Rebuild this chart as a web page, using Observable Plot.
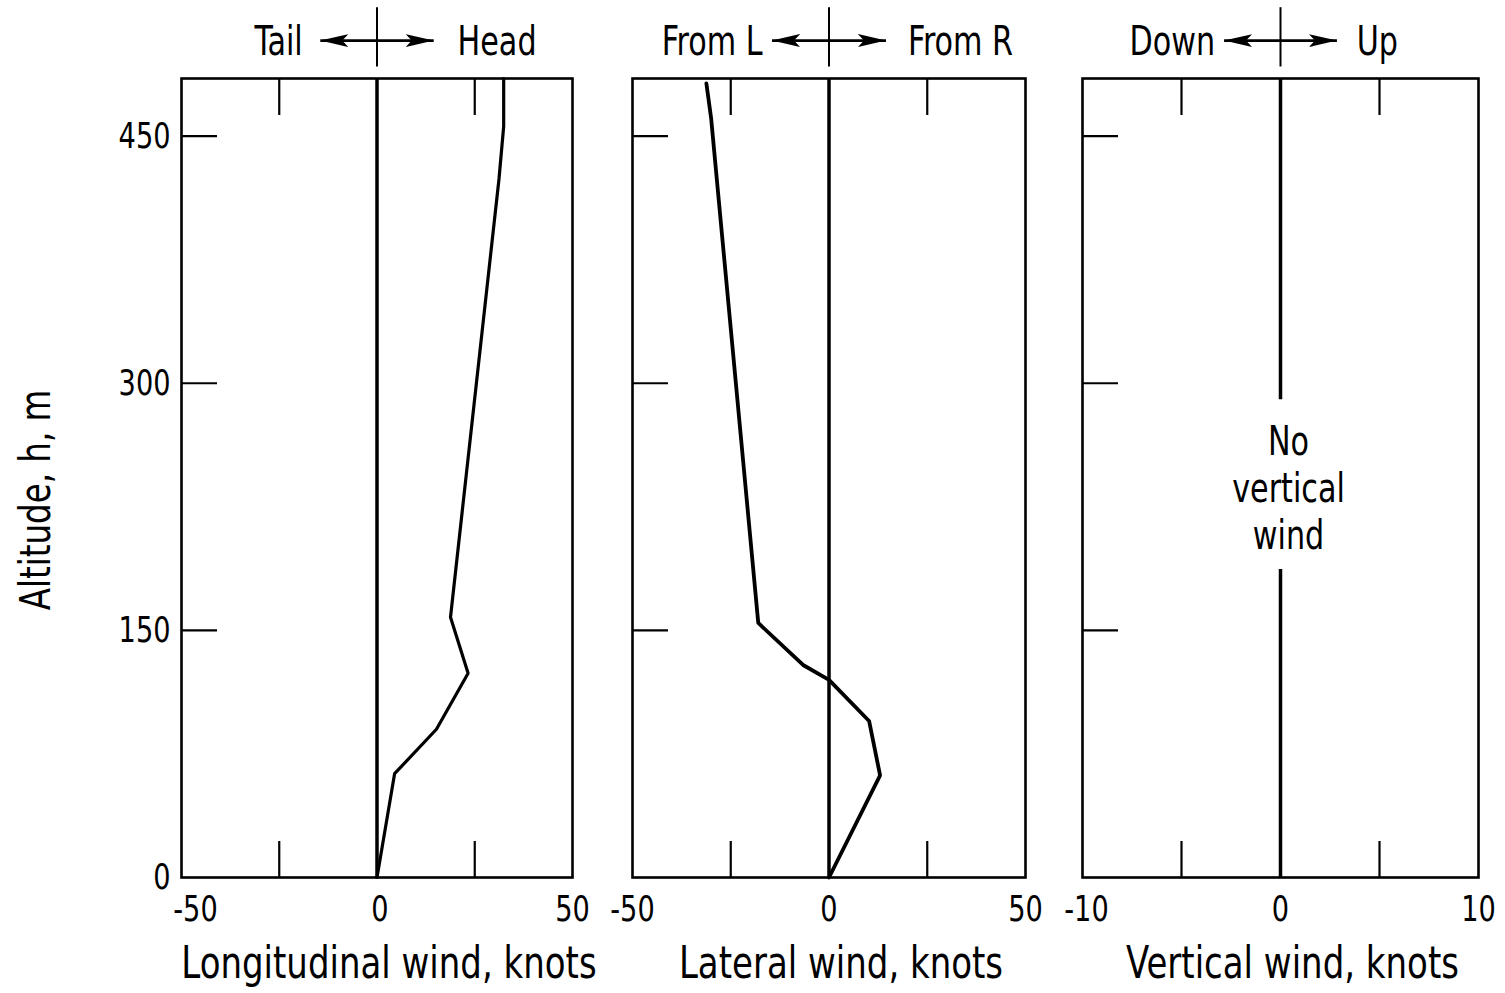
<!DOCTYPE html>
<html><head><meta charset="utf-8">
<script src="https://cdn.jsdelivr.net/npm/d3@7"></script>
<script src="https://cdn.jsdelivr.net/npm/@observablehq/plot@0.6"></script>
<style>
body{margin:0;background:#fff;}
#chart{position:relative;width:1505px;height:993px;background:#fff;}
.panel{position:absolute;top:0;}
</style></head><body><div id="chart"></div>
<script>
// ---- shared altitude axis ----
const altitudeDomain = [0, 485];
const altitudeTickLabels = [0, 150, 300, 450];
const altitudeInnerTicks = [150, 300, 450];
const altitudeTitle = "Altitude, h, m";

// ---- longitudinal wind profile (knots, + = head wind) ----
const longAltitude = [0, 63, 90, 124, 158, 424, 456, 485];
const longWind     = [0, 4.5, 15.2, 23.3, 18.8, 31.2, 32.4, 32.4];

// ---- lateral wind profile (knots, + = from right) ----
const latAltitude = [0, 62, 95, 120, 129, 154.5, 461, 482];
const latWind     = [0, 13, 10.2, 0, -6.6, -18, -30, -31.2];

// ---- vertical wind: none; the zero line is broken around the note ----
const vertZeroFrom = [0, 290];
const vertZeroTo   = [187, 485];
const vertNote = "No\nvertical\nwind";
const vertNoteAltitude = 237;

// ---- axes per panel ----
const xDomains    = [[-50, 50], [-50, 50], [-10, 10]];
const xTickLabels = [[-50, 0, 50], [-50, 0, 50], [-10, 0, 10]];
const xTickNudge  = [[14, 3, 0], [0, 0, 0], [4, 0, 0]];
const xInnerTicks = [[-25, 25], [-25, 25], [-5, 5]];
const xTitles     = ["Longitudinal wind, knots", "Lateral wind, knots", "Vertical wind, knots"];

// ---- direction annotations above each panel ----
const dirLeft      = ["Tail", "From L", "Down"];
const dirRight     = ["Head", "From R", "Up"];
const dirLeftEnd   = [-19, -16.9, -3.3];
const dirRightStart= [20.6, 20.1, 3.85];
const arrowReach   = [14.5, 14.5, 2.85];
const annotTextAlt = 507;
const annotArrowAlt = 508;
const annotCrossFrom = 492;
const annotCrossTo = 528;

// ---- page layout (css px) ----
const panelLeft   = [0, 602, 1053];
const panelWidth  = [602, 451, 452];
const marginLeft  = [181, 30, 29];
const marginRight = [30, 28, 27];
const H = 993, marginTop = 78, marginBottom = 116;

const FONT = "'DejaVu Sans Condensed', 'DejaVu Sans', sans-serif";
const NARROW = 0.84;   // horizontal squeeze of lettering
const NOTE_NARROW = 0.9;

const profiles = [
  longAltitude.map((a, i) => ({alt: a, wind: longWind[i]})),
  latAltitude.map((a, i) => ({alt: a, wind: latWind[i]})),
  null
];

const chart = document.getElementById("chart");

for (let p = 0; p < 3; p++) {
  const marks = [];
  marks.push(Plot.frame({stroke: "black", strokeWidth: 2.6}));
  // inward ticks
  marks.push(Plot.axisX({anchor: "top", ticks: xInnerTicks[p], tickSize: -36, tickFormat: () => "", label: null, strokeWidth: 2.2}));
  marks.push(Plot.axisX({anchor: "bottom", ticks: xInnerTicks[p], tickSize: -36, tickFormat: () => "", label: null, strokeWidth: 2.2}));
  marks.push(Plot.axisY({anchor: "left", ticks: altitudeInnerTicks, tickSize: -36, tickFormat: () => "", label: null, strokeWidth: 2.2}));
  // x tick labels
  xTickLabels[p].forEach((v, i) => {
    marks.push(Plot.axisX({anchor: "bottom", ticks: [v], tickSize: 0, tickPadding: 18, dx: xTickNudge[p][i], tickFormat: d => String(d), label: null, fontSize: 36}));
  });
  // x title
  marks.push(Plot.text([xTitles[p]], {frameAnchor: "bottom", textAnchor: "middle", lineAnchor: "middle", dy: 86, dx: 12, fontSize: 45}));
  if (p === 0) {
    marks.push(Plot.axisY({anchor: "left", ticks: altitudeTickLabels, tickSize: 0, tickPadding: 11, tickFormat: d => String(d), label: null, fontSize: 36}));
    marks.push(Plot.text([altitudeTitle], {frameAnchor: "left", textAnchor: "middle", lineAnchor: "middle", dx: -145, dy: 22, rotate: -90, fontSize: 43}));
  }
  // zero line
  if (p < 2) {
    marks.push(Plot.ruleX([0], {stroke: "black", strokeWidth: 3.5}));
  } else {
    const segs = vertZeroFrom.map((f, i) => ({from: f, to: vertZeroTo[i]}));
    marks.push(Plot.ruleX(segs, {x: () => 0, y1: "from", y2: "to", stroke: "black", strokeWidth: 3.5}));
    marks.push(Plot.text([vertNote], {x: 0, y: vertNoteAltitude, dx: 8, fontSize: 40, lineHeight: 1.18, ariaLabel: "note"}));
  }
  // profile
  if (profiles[p]) {
    marks.push(Plot.line(profiles[p], {x: "wind", y: "alt", stroke: "black", strokeWidth: p === 1 ? 3.8 : 3.2, strokeLinejoin: "miter"}));
  }
  // direction annotation
  marks.push(Plot.text([dirLeft[p]], {x: dirLeftEnd[p], y: annotTextAlt, textAnchor: "end", fontSize: 40}));
  marks.push(Plot.text([dirRight[p]], {x: dirRightStart[p], y: annotTextAlt, textAnchor: "start", fontSize: 40}));
  marks.push(Plot.link([-arrowReach[p], arrowReach[p]], {x1: () => 0, x2: d => d, y1: () => annotArrowAlt, y2: () => annotArrowAlt, stroke: "black", strokeWidth: 2.6}));
  marks.push(Plot.ruleX([0], {y1: annotCrossFrom, y2: annotCrossTo, stroke: "black", strokeWidth: 2}));

  const svg = Plot.plot({
    width: panelWidth[p],
    height: H,
    marginLeft: marginLeft[p],
    marginRight: marginRight[p],
    marginTop, marginBottom,
    x: {domain: xDomains[p], label: null},
    y: {domain: altitudeDomain, label: null},
    style: {fontFamily: FONT, fontSize: "36px", color: "black", background: "transparent", overflow: "visible"},
    marks
  });

  // filled arrowheads for the direction arrows
  const id = "head" + p;
  const defs = d3.select(svg).insert("defs", ":first-child");
  defs.append("marker").attr("id", id)
    .attr("viewBox", "0 -7 28 14").attr("refX", 28).attr("refY", 0)
    .attr("markerUnits", "userSpaceOnUse").attr("markerWidth", 28).attr("markerHeight", 14)
    .attr("orient", "auto")
    .append("path").attr("d", "M0,-6.5L28,0L0,6.5L6,0Z").attr("fill", "black");
  d3.select(svg).selectAll('g[aria-label="link"] path').attr("marker-end", `url(#${id})`);

  // narrow the lettering (the original uses a condensed stencil face)
  d3.select(svg).selectAll("text").each(function() {
    const inNote = this.closest('g[aria-label="note"]') != null;
    const s = inNote ? NOTE_NARROW : NARROW;
    const t = this.getAttribute("transform");
    if (t) {
      this.setAttribute("transform", `${t} scale(${s},1)`);
    } else {
      const x = +(this.getAttribute("x") || 0), y = +(this.getAttribute("y") || 0);
      this.removeAttribute("x"); this.removeAttribute("y");
      this.setAttribute("transform", `translate(${x},${y}) scale(${s},1)`);
    }
  });

  const div = document.createElement("div");
  div.className = "panel";
  div.style.left = panelLeft[p] + "px";
  div.style.width = panelWidth[p] + "px";
  div.appendChild(svg);
  chart.appendChild(div);
}
</script>
</body></html>
